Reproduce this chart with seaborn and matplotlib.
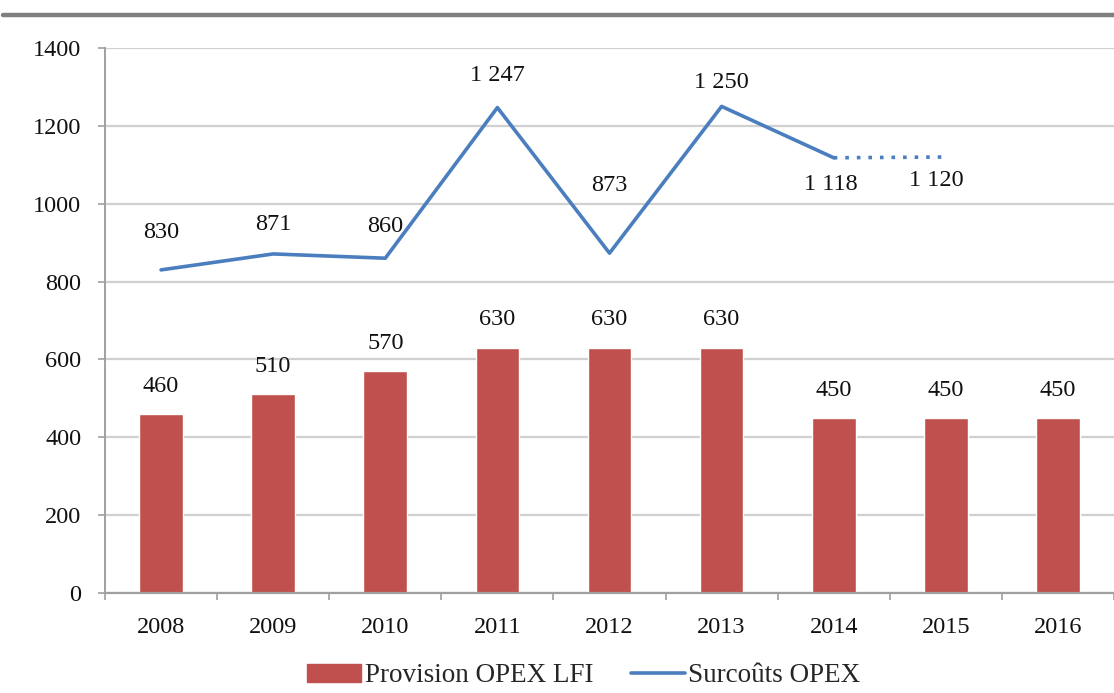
import numpy as np
import pandas as pd
import matplotlib
matplotlib.use("Agg")
import matplotlib.pyplot as plt
from matplotlib.lines import Line2D
from matplotlib.patches import Patch
import seaborn as sns

# ---- data ----
years = ["2008", "2009", "2010", "2011", "2012", "2013", "2014", "2015", "2016"]
provision = [460, 510, 570, 630, 630, 630, 450, 450, 450]
surcouts = [830, 871, 860, 1247, 873, 1250, 1118]          # actual (solid)
surcouts_forecast_years = ["2014", "2015"]                   # dotted extension
surcouts_forecast = [1118, 1120]
surcouts_labels = ["830", "871", "860", "1 247", "873", "1 250", "1 118"]
forecast_label = "1 120"
series_names = ["Provision OPEX LFI", "Surcoûts OPEX"]

# ---- styling ----
sns.set_theme(style="white")
plt.rcParams['font.family'] = ['Liberation Serif', 'DejaVu Serif']
FS = 17.5
BAR_C = "#C0504D"
LINE_C = "#4A7EBF"
GRID_C = "#D0D0D0"
AX_C = "#A0A0A0"
TXT_C = "#111111"

fig = plt.figure(figsize=(11.14, 6.93), dpi=100)
W, H = 1114, 693
left_px, right_px = 105, 1117
top_px, bot_px = 48, 593
ax = fig.add_axes([left_px / W, (H - bot_px) / H,
                   (W - left_px) / W, (bot_px - top_px) / H])

df = pd.DataFrame({"year": years, "val": provision})
sns.barplot(data=df, x="year", y="val", color=BAR_C, width=0.39,
            saturation=1, ax=ax, zorder=3)

xpos = np.arange(len(years))
idx = {y: i for i, y in enumerate(years)}
sns.lineplot(x=xpos[:len(surcouts)], y=surcouts, color=LINE_C, lw=2.6,
             ax=ax, zorder=4)
fx = [idx[y] for y in surcouts_forecast_years]
ax.plot(fx, surcouts_forecast, color=LINE_C, lw=2.6,
        linestyle=(0, (1, 2.2)), zorder=4)

ax.set_xlim(-0.5, -0.5 + (W - left_px) / ((right_px - left_px) / 9))
ax.set_ylim(0, 1400)
ax.set_yticks(np.arange(0, 1401, 200))
ax.set_xticks(xpos)
ax.set_xticklabels(years)
ax.set_xticks(np.arange(-0.5, 9.0, 1), minor=True)
ax.set_xlabel("")
ax.set_ylabel("")

ax.grid(axis="y", color=GRID_C, lw=1.6, zorder=0)
ax.set_axisbelow(True)
for s in ["top", "right"]:
    ax.spines[s].set_visible(False)
ax.spines["left"].set_color(AX_C)
ax.spines["left"].set_linewidth(1.4)
ax.spines["bottom"].set_color(AX_C)
ax.spines["bottom"].set_linewidth(1.6)
ax.spines["bottom"].set_zorder(5)

ax.tick_params(axis="y", which="major", length=5, width=1.2, color=AX_C,
               labelsize=FS, pad=12, left=True, labelcolor=TXT_C)
ax.tick_params(axis="x", which="major", length=0, labelsize=FS, pad=17,
               labelcolor=TXT_C)
ax.tick_params(axis="x", which="minor", length=5, width=1.2, color=AX_C,
               bottom=True)

# bar labels
for i, v in enumerate(provision):
    ax.annotate(f"{v}", (i, v), xytext=(0, 20), textcoords="offset points",
                ha="center", va="center", fontsize=FS, color=TXT_C)

# line labels (offsets in points, positive above)
line_offsets = [(0, 27), (0, 21), (0, 23), (0, 23), (0, 49), (0, 17), (-2, -19)]
for i, (v, lab) in enumerate(zip(surcouts, surcouts_labels)):
    dx, dy = line_offsets[i]
    ax.annotate(lab, (i, v), xytext=(dx, dy), textcoords="offset points",
                ha="center", va="center", fontsize=FS, color=TXT_C)
ax.annotate(forecast_label, (fx[-1], surcouts_forecast[-1]), xytext=(-7, -17),
            textcoords="offset points", ha="center", va="center",
            fontsize=FS, color=TXT_C)

# top decorative rule
fig.add_artist(Line2D([0.003, 1.0], [1 - 15 / H, 1 - 15 / H],
                      transform=fig.transFigure, color="#7F7F7F", lw=3.2))

# legend
handles = [Patch(facecolor=BAR_C, edgecolor=BAR_C),
           Line2D([0], [0], color=LINE_C, lw=2.6)]
fig.legend(handles, series_names, loc="center", ncol=2,
           bbox_to_anchor=(584 / W, 1 - 676 / H), frameon=False,
           fontsize=19.5, handlelength=2.0, handleheight=0.6,
           handletextpad=0.12, columnspacing=1.4, borderaxespad=0)

fig.savefig("out.png", dpi=100)
